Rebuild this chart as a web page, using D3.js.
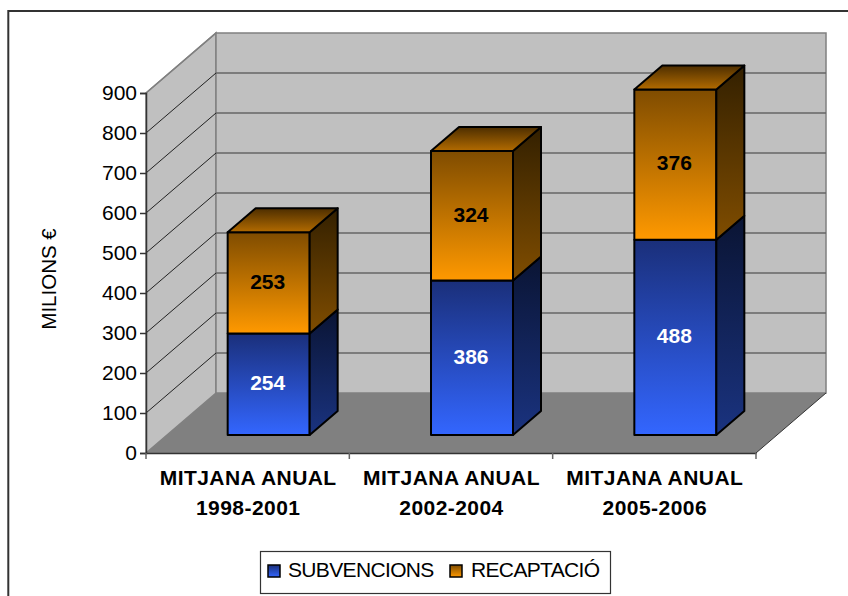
<!DOCTYPE html>
<html>
<head>
<meta charset="utf-8">
<script src="https://cdn.jsdelivr.net/npm/d3@7"></script>
<style>
  html, body { margin: 0; padding: 0; background: #fff; overflow: hidden; }
  text { font-family: "Liberation Sans", Arial, sans-serif; }
</style>
</head>
<body>
<div id="chart"></div>
<script>
// Dataset
const categories = ["MITJANA ANUAL|1998-2001", "MITJANA ANUAL|2002-2004", "MITJANA ANUAL|2005-2006"];
const subvencions = [254, 386, 488];
const recaptacio = [253, 324, 376];
const yTicks = [0, 100, 200, 300, 400, 500, 600, 700, 800, 900];
const seriesNames = ["SUBVENCIONS", "RECAPTACIÓ"];

const width = 848, height = 596;

const svg = d3.select("#chart").append("svg")
  .attr("width", width)
  .attr("height", height);

// Scales
const yscale = d3.scaleLinear().domain([0, 900]).range([453, 93]);
const xscale = d3.scaleBand().domain(categories).range([146, 756]);
const depth = {dx: 70, dy: -60};   // floor depth of the 3d box
const barFront = 0.3, barBack = 0.7;  // bar position in the depth of the box
const barWidth = 82;

// gradients: [top colour, bottom colour]
const fills = {
  blueFront: ["#1a2f7a", "#3366ff"],
  blueSide: ["#0a1433", "#1a3380"],
  orangeFront: ["#7f4c00", "#ff9900"],
  orangeSide: ["#332000", "#804d00"],
  orangeTop: ["#4d2e00", "#b36b00"]
};
const defs = svg.append("defs");
Object.keys(fills).forEach(k => {
  const g = defs.append("linearGradient").attr("id", k)
    .attr("x1", 0).attr("y1", 0).attr("x2", 0).attr("y2", 1);
  g.append("stop").attr("offset", "0%").attr("stop-color", fills[k][0]);
  g.append("stop").attr("offset", "100%").attr("stop-color", fills[k][1]);
});

// outer frame
svg.append("rect")
  .attr("x", 8.3).attr("y", 11)
  .attr("width", 860).attr("height", 640)
  .attr("fill", "#fff").attr("stroke", "#333").attr("stroke-width", 2);

const x0 = xscale.range()[0], x1 = xscale.range()[1];
const y0 = yscale(0), yTop = yscale(900);
const poly = pts => pts.map(p => p.join(",")).join(" ");

// Walls and floor
svg.append("polygon")
  .attr("points", poly([[x0, y0], [x0 + depth.dx, y0 + depth.dy], [x0 + depth.dx, yTop + depth.dy], [x0, yTop]]))
  .attr("fill", "#c0c0c0").attr("stroke", "#808080").attr("stroke-width", 1.5);
svg.append("rect")
  .attr("x", x0 + depth.dx).attr("y", yTop + depth.dy)
  .attr("width", x1 - x0).attr("height", y0 - yTop)
  .attr("fill", "#c0c0c0").attr("stroke", "#808080").attr("stroke-width", 1.5);
svg.append("polygon")
  .attr("points", poly([[x0, y0], [x1, y0], [x1 + depth.dx, y0 + depth.dy], [x0 + depth.dx, y0 + depth.dy]]))
  .attr("fill", "#808080");
svg.append("line")
  .attr("x1", x1).attr("y1", y0).attr("x2", x1 + depth.dx).attr("y2", y0 + depth.dy)
  .attr("stroke", "#333").attr("stroke-width", 1);

// Gridlines
const grid = svg.append("g");
yTicks.filter(d => d > 0).forEach(d => {
  grid.append("line")
    .attr("x1", x0).attr("y1", yscale(d))
    .attr("x2", x0 + depth.dx).attr("y2", yscale(d) + depth.dy)
    .attr("stroke", d === 900 ? "#808080" : "#222").attr("stroke-width", d === 900 ? 1.5 : 1);
  if (d < 900) {
    grid.append("line")
      .attr("x1", x0 + depth.dx).attr("y1", yscale(d) + depth.dy)
      .attr("x2", x1 + depth.dx).attr("y2", yscale(d) + depth.dy)
      .attr("stroke", "#666").attr("stroke-width", 1.5);
  }
});

// Bars
function drawSegment(g, xLeft, v0, v1, front, side, top) {
  const xRight = xLeft + barWidth;
  const zf = barFront, zb = barBack;
  const yb = yscale(v0) + depth.dy * zf, yt = yscale(v1) + depth.dy * zf;
  const ox = depth.dx * (zb - zf), oy = depth.dy * (zb - zf);
  const strokeAttrs = s => s.attr("stroke", "#000").attr("stroke-width", 2).attr("stroke-linejoin", "round");
  g.append("rect").attr("x", xLeft).attr("y", yt)
    .attr("width", barWidth).attr("height", yb - yt)
    .attr("fill", "url(#" + front + ")").call(strokeAttrs);
  g.append("polygon")
    .attr("points", poly([[xRight, yb], [xRight + ox, yb + oy], [xRight + ox, yt + oy], [xRight, yt]]))
    .attr("fill", "url(#" + side + ")").call(strokeAttrs);
  if (top) {
    g.append("polygon")
      .attr("points", poly([[xLeft, yt], [xRight, yt], [xRight + ox, yt + oy], [xLeft + ox, yt + oy]]))
      .attr("fill", "url(#" + top + ")").call(strokeAttrs);
  }
}

const bars = svg.append("g");
categories.forEach((c, i) => {
  const xLeft = xscale(c) + xscale.bandwidth() / 2 + depth.dx * barFront - barWidth / 2;
  const a = subvencions[i], b = recaptacio[i];
  const g = bars.append("g");
  drawSegment(g, xLeft, 0, a, "blueFront", "blueSide");
  drawSegment(g, xLeft, a, a + b, "orangeFront", "orangeSide", "orangeTop");
  const labelY = v => yscale(v) + depth.dy * barFront - 1.5;
  g.append("text").attr("x", xLeft + barWidth / 2 - 1).attr("y", labelY(a / 2)).attr("dy", "0.35em")
    .attr("text-anchor", "middle").attr("font-size", 21).attr("font-weight", "bold")
    .attr("fill", "#fff").text(a);
  g.append("text").attr("x", xLeft + barWidth / 2 - 1).attr("y", labelY(a + b / 2)).attr("dy", "0.35em")
    .attr("text-anchor", "middle").attr("font-size", 21).attr("font-weight", "bold")
    .attr("fill", "#000").text(b);
});

// Axes
const yaxis = d3.axisLeft(yscale).tickValues(yTicks).tickSize(6).tickPadding(3);
svg.append("g").attr("id", "y-axis")
  .attr("transform", "translate(" + x0 + ",0)")
  .call(yaxis)
  .call(g => g.selectAll("path,line").attr("stroke", "#333").attr("stroke-width", 1.5))
  .call(g => g.selectAll("text").attr("font-size", 21).attr("fill", "#000").style("font-family", '"Liberation Sans", Arial, sans-serif'));

const xaxis = d3.axisBottom(xscale).tickValues([]).tickSize(0);
svg.append("g").attr("id", "x-axis")
  .attr("transform", "translate(0," + y0 + ")")
  .call(xaxis)
  .call(g => g.selectAll("path").attr("stroke", "#333").attr("stroke-width", 1.5));
[x0, ...categories.map(c => xscale(c) + xscale.bandwidth())].forEach(x => {
  svg.append("line").attr("x1", x).attr("x2", x).attr("y1", y0).attr("y2", y0 + 6)
    .attr("stroke", "#666").attr("stroke-width", 1.5);
});

// Category labels
categories.forEach(c => {
  const t = svg.append("text")
    .attr("text-anchor", "middle").attr("font-size", 21).attr("font-weight", "bold")
    .attr("letter-spacing", 0.45).attr("fill", "#000");
  c.split("|").forEach((line, i) => {
    t.append("tspan")
      .attr("x", xscale(c) + xscale.bandwidth() / 2 + 0.5)
      .attr("y", 485 + i * 30)
      .text(line);
  });
});

// Axis title
svg.append("text")
  .attr("transform", "translate(56,279) rotate(-90)")
  .attr("text-anchor", "middle").attr("font-size", 20.5).attr("fill", "#000")
  .text("MILIONS €");

// Legend
const legend = svg.append("g");
legend.append("rect").attr("x", 260.5).attr("y", 551.5).attr("width", 350).attr("height", 42)
  .attr("fill", "#fff").attr("stroke", "#333").attr("stroke-width", 1.2);
[["blueFront", 268, 288], ["orangeFront", 450, 471]].forEach((d, i) => {
  legend.append("rect").attr("x", d[1]).attr("y", 565).attr("width", 12).attr("height", 12)
    .attr("fill", "url(#" + d[0] + ")").attr("stroke", "#000").attr("stroke-width", 1.5);
  legend.append("text").attr("x", d[2]).attr("y", 577)
    .attr("font-size", 21).attr("letter-spacing", -0.65).attr("fill", "#000").text(seriesNames[i]);
});
</script>
</body>
</html>
